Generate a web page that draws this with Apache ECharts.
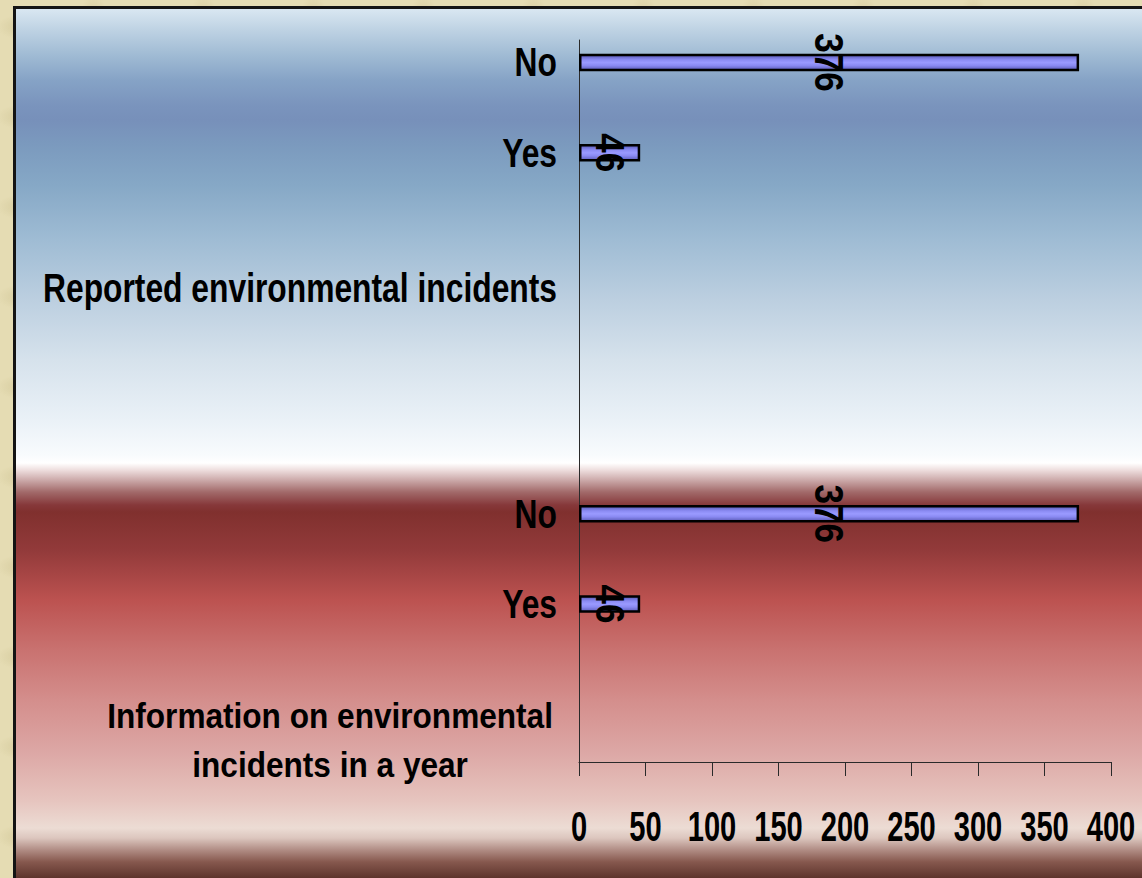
<!DOCTYPE html>
<html>
<head>
<meta charset="utf-8">
<script src="https://cdn.jsdelivr.net/npm/echarts@6/dist/echarts.min.js"></script>
<style>
  html, body { margin: 0; padding: 0; width: 1142px; height: 878px; overflow: hidden; }
  body {
    background-color: #e5dcb3;
    background-image:
      radial-gradient(ellipse 40px 18px at 20% 30%, rgba(200,188,140,0.55), transparent 70%),
      radial-gradient(ellipse 30px 50px at 70% 60%, rgba(245,238,205,0.7), transparent 70%),
      radial-gradient(ellipse 25px 12px at 45% 80%, rgba(190,178,130,0.5), transparent 70%),
      radial-gradient(ellipse 18px 30px at 85% 15%, rgba(205,192,145,0.5), transparent 70%);
    background-size: 120px 90px, 90px 130px, 70px 60px, 110px 100px;
  }
  #panel {
    position: absolute; left: 13px; top: 6px; right: 0; bottom: 0;
    border-left: 3px solid #141414; border-top: 3px solid #141414;
    background: linear-gradient(to bottom,
      #d8e6f1 1px, #bed2e3 21px, #a0bbd4 46px, #86a3c6 71px, #7a94bd 96px,
      #7790ba 111px, #7b9abe 136px, #86a8c6 176px, #9fbcd4 231px, #bccfe0 291px,
      #d6e2ec 351px, #eaf1f7 411px, #f8fbfd 446px, #ffffff 454px, #eedede 461px,
      #ccaaaa 471px, #a26a6a 483px, #86383a 496px, #80302e 503px, #923a3a 541px,
      #bc5250 591px, #c97270 641px, #d48e8c 691px, #dca6a4 741px, #e6c4be 791px,
      #ecdcd4 819px, #dcc6be 829px, #b08c84 841px, #86584e 853px, #5e342c 869px);
  }
  #chart { position: absolute; left: 0; top: 0; width: 1142px; height: 878px; }
</style>
</head>
<body>
<div id="panel"></div>
<div id="chart"></div>
<script>
// Category slots from top to bottom; blank slots keep the group spacing.
const categories = [
  'No', '', 'Yes', '', '', 'Reported environmental incidents', '', '', '', '',
  'No', '', 'Yes', '', '', 'Information on environmental\nincidents in a year'
];
const responses = [
  376, null, 46, null, null, null, null, null, null, null,
  376, null, 46, null, null, null
];
const xTicks = [0, 50, 100, 150, 200, 250, 300, 350, 400];

const FAMILY = '"Liberation Sans", Arial, sans-serif';
const GRID = { left: 579, right: 31, top: 40, bottom: 116 };

const chart = echarts.init(document.getElementById('chart'), null, { renderer: 'svg' });

chart.setOption({
  backgroundColor: 'transparent',
  animation: false,
  grid: Object.assign({ containLabel: false }, GRID),
  xAxis: {
    type: 'value',
    min: xTicks[0],
    max: xTicks[xTicks.length - 1],
    interval: xTicks[1] - xTicks[0],
    axisLine: { show: true, lineStyle: { color: '#2a2a2a', width: 1 } },
    axisTick: { show: true, length: 14, lineStyle: { color: '#2a2a2a', width: 1 } },
    splitLine: { show: false },
    axisLabel: { show: false }
  },
  yAxis: {
    type: 'category',
    inverse: true,
    data: categories,
    axisLine: { show: true, lineStyle: { color: '#2a2a2a', width: 1 } },
    axisTick: { show: false },
    splitLine: { show: false },
    axisLabel: { show: false }
  },
  series: [{
    type: 'bar',
    data: responses,
    barWidth: 17.5,
    itemStyle: {
      borderColor: '#000',
      borderWidth: 2.5,
      color: {
        type: 'linear', x: 0, y: 0, x2: 0, y2: 1,
        colorStops: [
          { offset: 0, color: '#5a5ab6' },
          { offset: 0.3, color: '#8a8af2' },
          { offset: 0.5, color: '#9a9aff' },
          { offset: 0.7, color: '#8a8af2' },
          { offset: 1, color: '#5a5ab6' }
        ]
      }
    },
    label: { show: false }
  }]
});

// Tall, condensed lettering: texts are placed through the axes and stretched.
const texts = [];

// Value-axis tick labels
xTicks.forEach(function (v) {
  texts.push({
    type: 'text', z: 100, silent: true,
    x: chart.convertToPixel({ xAxisIndex: 0 }, v),
    y: GRID.top + (878 - GRID.top - GRID.bottom) + 64,
    scaleX: 1.04, scaleY: 1.55,
    style: {
      text: String(v), fill: '#000',
      fontFamily: FAMILY, fontWeight: 'bold', fontSize: 28,
      align: 'center', verticalAlign: 'middle'
    }
  });
});

// Category labels
categories.forEach(function (name, i) {
  if (!name) return;
  const y = chart.convertToPixel({ yAxisIndex: 0 }, i);
  const multi = name.indexOf('\n') >= 0;
  const sy = multi ? 1.13 : 1.26;
  texts.push({
    type: 'text', z: 100, silent: true,
    x: GRID.left - (multi ? 26 : 22), y: y,
    scaleX: 1, scaleY: sy,
    style: multi ? {
      text: name.split('\n').map(function (s) { return '{c|' + s + '}'; }).join('\n'),
      align: 'right', verticalAlign: 'middle',
      rich: {
        c: {
          align: 'center', fill: '#000', fontFamily: FAMILY, fontWeight: 'bold',
          fontSize: 31.6, lineHeight: 49 / sy
        }
      }
    } : {
      text: name, fill: '#000',
      fontFamily: FAMILY, fontWeight: 'bold', fontSize: 31.8,
      align: 'right', verticalAlign: 'middle'
    }
  });
});

// Value labels, centred on each bar and turned to read downwards
responses.forEach(function (v, i) {
  if (v == null) return;
  const p = chart.convertToPixel({ gridIndex: 0 }, [v / 2, i]);
  texts.push({
    type: 'text', z: 100, silent: true,
    x: p[0], y: p[1],
    rotation: -Math.PI / 2,
    scaleX: 1, scaleY: 1.16,
    style: {
      text: String(v), fill: '#000',
      fontFamily: FAMILY, fontWeight: 'bold', fontSize: 35,
      align: 'center', verticalAlign: 'middle'
    }
  });
});

chart.setOption({ graphic: { elements: texts } });
</script>
</body>
</html>
